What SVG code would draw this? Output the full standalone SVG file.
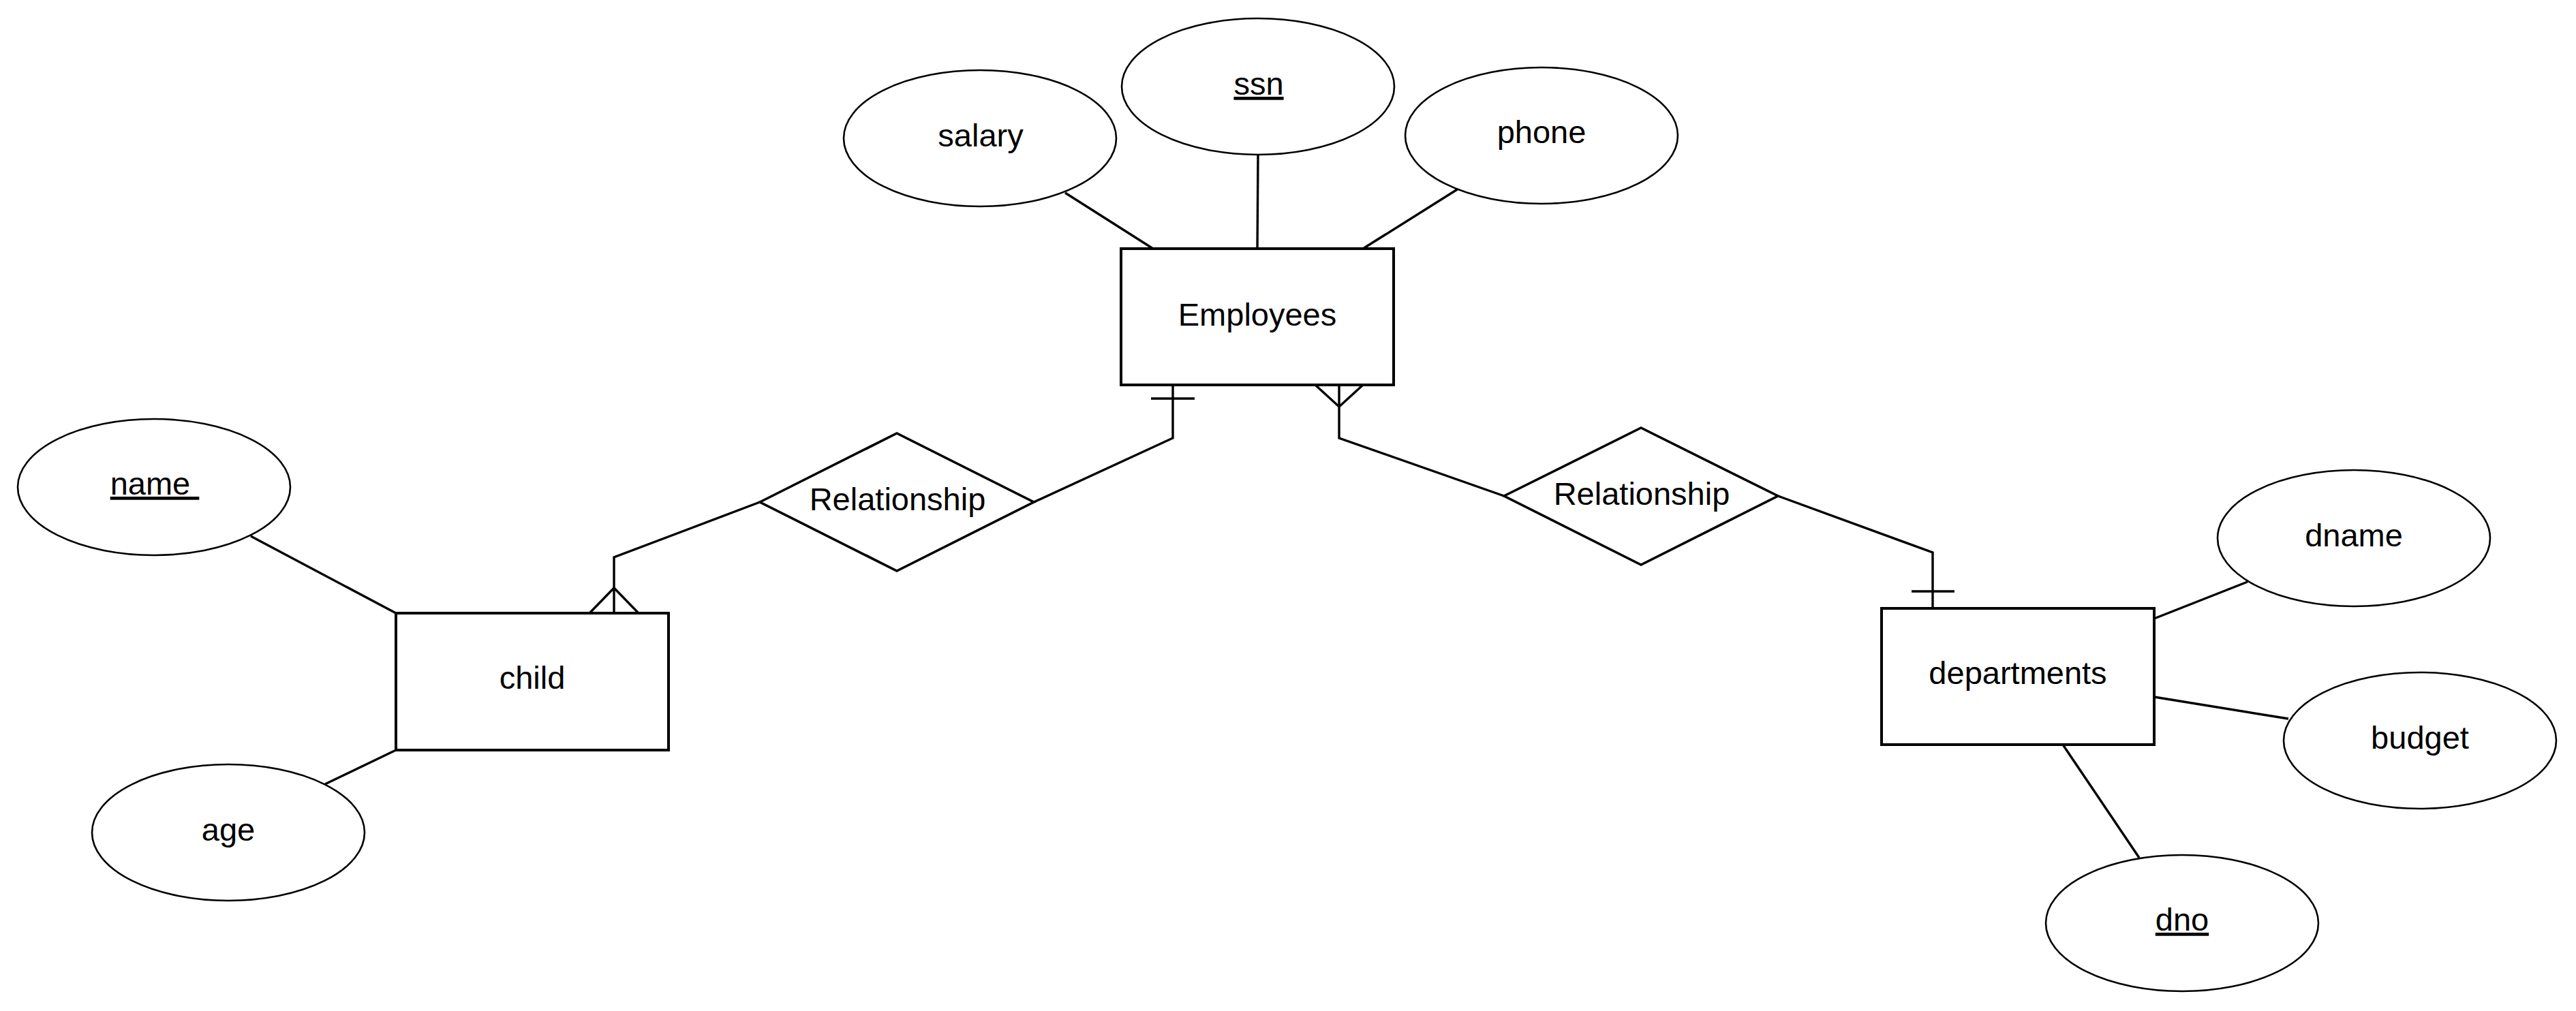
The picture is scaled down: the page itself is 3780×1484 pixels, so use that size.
<svg xmlns="http://www.w3.org/2000/svg" width="3780" height="1484" viewBox="0 0 3780 1484">
<style>
.bg{fill:#ffffff}
.ent{fill:#ffffff;stroke:#000000;stroke-width:4}
.attr{fill:#ffffff;stroke:#000000;stroke-width:2.6}
.rel{fill:#ffffff;stroke:#000000;stroke-width:3.6}
.conn{fill:none;stroke:#000000;stroke-width:3.4;stroke-linejoin:miter}
.t{font-family:"Liberation Sans",Arial,Helvetica,sans-serif;font-size:47px;fill:#000000;text-anchor:middle}
.u{text-decoration:underline}
</style>
<rect class="bg" x="0" y="0" width="3780" height="1484"/>
<g id="connectors">
  <line class="conn" x1="1563" y1="283" x2="1692" y2="365"/>
  <line class="conn" x1="1846" y1="227" x2="1845" y2="365"/>
  <line class="conn" x1="2140" y1="277" x2="2000" y2="365"/>
  <polyline class="conn" points="1721,565 1721,643 1517,737"/>
  <line class="conn" x1="1689" y1="585" x2="1753" y2="585"/>
  <polyline class="conn" points="1965,565 1965,643 2207,728"/>
  <polyline class="conn" points="1930,565 1965,597 2000,565"/>
  <polyline class="conn" points="1115,737 901,818 901,900"/>
  <polyline class="conn" points="865,900 901,863 937,900"/>
  <polyline class="conn" points="2609,728 2836,811 2836,893"/>
  <line class="conn" x1="2805" y1="868" x2="2868" y2="868"/>
  <line class="conn" x1="368" y1="787" x2="581" y2="900"/>
  <line class="conn" x1="581" y1="1101" x2="477" y2="1151"/>
  <line class="conn" x1="3161" y1="908" x2="3298" y2="854"/>
  <line class="conn" x1="3161" y1="1023" x2="3358" y2="1055"/>
  <line class="conn" x1="3027" y1="1093" x2="3139" y2="1259"/>
</g>
<g id="employees">
  <rect class="ent" x="1645" y="365" width="400" height="200"/>
  <text class="t" x="1845" y="478">Employees</text>
</g>
<g id="salary">
  <ellipse class="attr" cx="1438" cy="203" rx="200" ry="100"/>
  <text class="t" x="1439" y="215">salary</text>
</g>
<g id="ssn">
  <ellipse class="attr" cx="1846" cy="127" rx="200" ry="100"/>
  <text class="t u" x="1847" y="139">ssn</text>
</g>
<g id="phone">
  <ellipse class="attr" cx="2262" cy="199" rx="200" ry="100"/>
  <text class="t" x="2262" y="210">phone</text>
</g>
<g id="rel-left">
  <polygon class="rel" points="1115,737 1316,636 1517,737 1316,838"/>
  <text class="t" x="1317" y="749">Relationship</text>
</g>
<g id="rel-right">
  <polygon class="rel" points="2207,728 2408,628 2609,728 2408,829"/>
  <text class="t" x="2409" y="741">Relationship</text>
</g>
<g id="child">
  <rect class="ent" x="581" y="900" width="400" height="201"/>
  <text class="t" x="781" y="1011">child</text>
</g>
<g id="name">
  <ellipse class="attr" cx="226" cy="715" rx="200" ry="100"/>
  <text class="t u" x="227" y="726" xml:space="preserve">name </text>
</g>
<g id="age">
  <ellipse class="attr" cx="335" cy="1222" rx="200" ry="100"/>
  <text class="t" x="335" y="1234">age</text>
</g>
<g id="departments">
  <rect class="ent" x="2761" y="893" width="400" height="200"/>
  <text class="t" x="2961" y="1004">departments</text>
</g>
<g id="dname">
  <ellipse class="attr" cx="3454" cy="790" rx="200" ry="100"/>
  <text class="t" x="3454" y="802">dname</text>
</g>
<g id="budget">
  <ellipse class="attr" cx="3551" cy="1087" rx="200" ry="100"/>
  <text class="t" x="3551" y="1099">budget</text>
</g>
<g id="dno">
  <ellipse class="attr" cx="3202" cy="1355" rx="200" ry="100"/>
  <text class="t u" x="3202" y="1366">dno</text>
</g>
</svg>
